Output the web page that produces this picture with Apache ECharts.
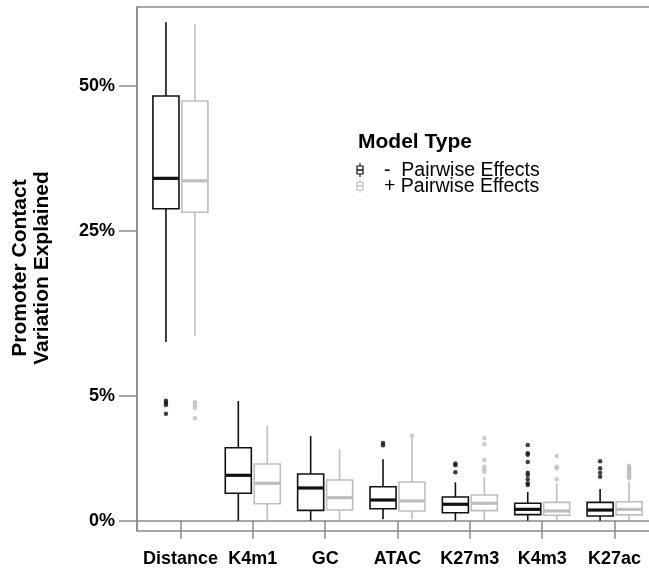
<!DOCTYPE html>
<html>
<head>
<meta charset="utf-8">
<script src="https://cdn.jsdelivr.net/npm/echarts@6/dist/echarts.min.js"></script>
<style>html,body{margin:0;padding:0;background:#fff;}#c{width:649px;height:572px;}</style>
</head>
<body>
<div id="c"></div>
<script>
// ---- data (percent of variation explained) ----
const categories = ['Distance', 'K4m1', 'GC', 'ATAC', 'K27m3', 'K4m3', 'K27ac'];

const minusMin    = [10.06, 0.000, 0.000, 0.0006, 0.000, 0.000, 0.000];
const minusQ1     = [28.54, 0.245, 0.035, 0.047, 0.021, 0.012, 0.007];
const minusMedian = [33.61, 0.671, 0.349, 0.140, 0.088, 0.042, 0.037];
const minusQ3     = [48.17, 1.729, 0.710, 0.377, 0.183, 0.099, 0.110];
const minusMax    = [61.41, 4.600, 2.320, 1.225, 0.480, 0.269, 0.328];

const plusMin    = [10.76, 0.000, 0.000, 0.0006, 0.000, 0.000, 0.000];
const plusQ1     = [27.95, 0.094, 0.037, 0.031, 0.033, 0.0095, 0.011];
const plusMedian = [33.19, 0.456, 0.173, 0.127, 0.099, 0.031, 0.042];
const plusQ3     = [47.27, 1.045, 0.540, 0.488, 0.215, 0.110, 0.118];
const plusMax    = [61.10, 2.920, 1.654, 2.199, 0.613, 0.456, 0.496];

const minusOutliers = [
  ['Distance', 4.63], ['Distance', 4.48], ['Distance', 4.31], ['Distance', 3.69],
  ['ATAC', 1.957], ['ATAC', 1.844],
  ['K27m3', 1.06], ['K27m3', 1.00], ['K27m3', 0.763],
  ['K4m3', 1.858], ['K4m3', 1.475], ['K4m3', 1.415], ['K4m3', 1.120], ['K4m3', 0.750],
  ['K4m3', 0.680], ['K4m3', 0.558], ['K4m3', 0.456], ['K4m3', 0.415],
  ['K27ac', 1.147], ['K27ac', 0.893], ['K27ac', 0.750], ['K27ac', 0.631]
];
const plusOutliers = [
  ['Distance', 4.51], ['Distance', 4.31], ['Distance', 4.09], ['Distance', 3.38],
  ['ATAC', 2.339],
  ['K27m3', 2.199], ['K27m3', 1.892], ['K27m3', 1.198], ['K27m3', 0.949], ['K27m3', 0.860], ['K27m3', 0.782],
  ['K4m3', 1.360], ['K4m3', 0.949], ['K4m3', 0.893], ['K4m3', 0.558],
  ['K27ac', 0.984], ['K27ac', 0.938], ['K27ac', 0.893], ['K27ac', 0.846], ['K27ac', 0.804],
  ['K27ac', 0.763], ['K27ac', 0.710], ['K27ac', 0.671], ['K27ac', 0.622], ['K27ac', 0.586]
];

const yTickValues = [0, 5, 25, 50];
const yTickLabels = ['0%', '5%', '25%', '50%'];
const seriesNames = ['-  Pairwise Effects', '+ Pairwise Effects'];
const legendTitle = 'Model Type';
const yTitle = 'Promoter Contact\nVariation Explained';

// ---- arcsine square-root transform ----
const tr = p => Math.asin(Math.sqrt(Math.max(0, p) / 100));

const DODGE = 0.2, HALF = 0.18;
const BLACK = '#111111', GREY = '#bebebe';
const FONT = '"Liberation Sans", Arial, Helvetica, sans-serif';

function boxData(mn, q1, md, q3, mx, off) {
  return categories.map((c, i) => [i + 1 + off, tr(mn[i]), tr(q1[i]), tr(md[i]), tr(q3[i]), tr(mx[i])]);
}
function outData(list, off) {
  return list.map(d => [categories.indexOf(d[0]) + 1 + off, tr(d[1])]);
}

function makeRender(color) {
  return function (params, api) {
    const x = api.value(0);
    const lo = api.coord([x, api.value(1)]);
    const q1 = api.coord([x, api.value(2)]);
    const md = api.coord([x, api.value(3)]);
    const q3 = api.coord([x, api.value(4)]);
    const hi = api.coord([x, api.value(5)]);
    const hw = api.size([HALF, 0])[0];
    const cx = lo[0];
    return {
      type: 'group',
      children: [
        { type: 'line', shape: { x1: cx, y1: lo[1], x2: cx, y2: q1[1] }, style: { stroke: color, lineWidth: 1.6 } },
        { type: 'line', shape: { x1: cx, y1: q3[1], x2: cx, y2: hi[1] }, style: { stroke: color, lineWidth: 1.6 } },
        { type: 'rect', shape: { x: cx - hw, y: q3[1], width: 2 * hw, height: q1[1] - q3[1] },
          style: { fill: '#ffffff', stroke: color, lineWidth: 1.6 } },
        { type: 'line', shape: { x1: cx - hw, y1: md[1], x2: cx + hw, y2: md[1] }, style: { stroke: color, lineWidth: 3.2 } }
      ]
    };
  };
}

const yMin = -0.0186, yMax = 0.92793;
const yTickPos = yTickValues.map(tr);

const chart = echarts.init(document.getElementById('c'), null, { renderer: 'canvas' });
chart.setOption({
  animation: false,
  backgroundColor: '#ffffff',
  grid: { left: 137, top: 7, width: 521, height: 524, outerBoundsMode: 'none', containLabel: false,
    show: true, borderColor: '#8a8a8a', borderWidth: 1.5, backgroundColor: 'transparent' },
  xAxis: {
    type: 'value', min: 0.4, max: 7.6,
    axisLine: { show: true, lineStyle: { color: '#8a8a8a', width: 1.5 } },
    axisTick: { show: true, customValues: categories.map((c, i) => i + 1), length: 18, lineStyle: { color: '#8a8a8a', width: 1.5 } },
    axisLabel: {
      customValues: categories.map((c, i) => i + 1),
      formatter: v => categories[Math.round(v) - 1] || '',
      margin: 19, color: '#000', fontSize: 18, fontWeight: 'bold', fontFamily: FONT
    },
    splitLine: { show: false }
  },
  yAxis: {
    type: 'value', min: yMin, max: yMax,
    axisLine: { show: true, lineStyle: { color: '#8a8a8a', width: 1.5 } },
    axisTick: { show: true, customValues: yTickPos, length: 18, lineStyle: { color: '#8a8a8a', width: 1.5 } },
    axisLabel: {
      customValues: yTickPos,
      formatter: v => {
        let best = 0;
        yTickPos.forEach((p, i) => { if (Math.abs(p - v) < Math.abs(yTickPos[best] - v)) best = i; });
        return yTickLabels[best];
      },
      margin: 22, color: '#000', fontSize: 18, fontWeight: 'bold', fontFamily: FONT
    },
    splitLine: { show: false }
  },
  series: [
    { name: seriesNames[0], type: 'custom', renderItem: makeRender(BLACK), encode: { x: 0, y: [1, 2, 3, 4, 5] },
      data: boxData(minusMin, minusQ1, minusMedian, minusQ3, minusMax, -DODGE), itemStyle: { color: BLACK }, z: 2 },
    { name: seriesNames[1], type: 'custom', renderItem: makeRender(GREY), encode: { x: 0, y: [1, 2, 3, 4, 5] },
      data: boxData(plusMin, plusQ1, plusMedian, plusQ3, plusMax, DODGE), itemStyle: { color: GREY }, z: 2 },
    { name: seriesNames[0] + ' outliers', type: 'scatter', symbol: 'circle', symbolSize: 4.5,
      data: outData(minusOutliers, -DODGE), itemStyle: { color: BLACK }, z: 3 },
    { name: seriesNames[1] + ' outliers', type: 'scatter', symbol: 'circle', symbolSize: 4.5,
      data: outData(plusOutliers, DODGE), itemStyle: { color: GREY }, z: 3 }
  ],
  graphic: [
    { type: 'text', x: 31, y: 268, rotation: Math.PI / 2,
      style: { text: yTitle, fontSize: 21, fontWeight: 'bold', fontFamily: FONT, fill: '#000',
        align: 'center', verticalAlign: 'middle', lineHeight: 21.5 } },
    { type: 'text', x: 358, y: 142.5,
      style: { text: legendTitle, fontSize: 21, fontWeight: 'bold', fontFamily: FONT, fill: '#000', verticalAlign: 'middle' } },
    { type: 'group', x: 360, y: 170, children: [
      { type: 'line', shape: { x1: 0, y1: -7, x2: 0, y2: 7 }, style: { stroke: BLACK, lineWidth: 1 } },
      { type: 'rect', shape: { x: -3, y: -4, width: 6, height: 8 }, style: { fill: '#fff', stroke: BLACK, lineWidth: 1.2 } },
      { type: 'line', shape: { x1: -3, y1: 0, x2: 3, y2: 0 }, style: { stroke: BLACK, lineWidth: 1.5 } }
    ]},
    { type: 'group', x: 360, y: 186, children: [
      { type: 'line', shape: { x1: 0, y1: -7, x2: 0, y2: 7 }, style: { stroke: GREY, lineWidth: 1 } },
      { type: 'rect', shape: { x: -3, y: -4, width: 6, height: 8 }, style: { fill: '#fff', stroke: GREY, lineWidth: 1.2 } },
      { type: 'line', shape: { x1: -3, y1: 0, x2: 3, y2: 0 }, style: { stroke: GREY, lineWidth: 1.5 } }
    ]},
    { type: 'text', x: 384, y: 170.5,
      style: { text: seriesNames[0], fontSize: 19.5, fontFamily: FONT, fill: '#000', verticalAlign: 'middle' } },
    { type: 'text', x: 384, y: 186.5,
      style: { text: seriesNames[1], fontSize: 19.5, fontFamily: FONT, fill: '#000', verticalAlign: 'middle' } }
  ]
});
</script>
</body>
</html>
